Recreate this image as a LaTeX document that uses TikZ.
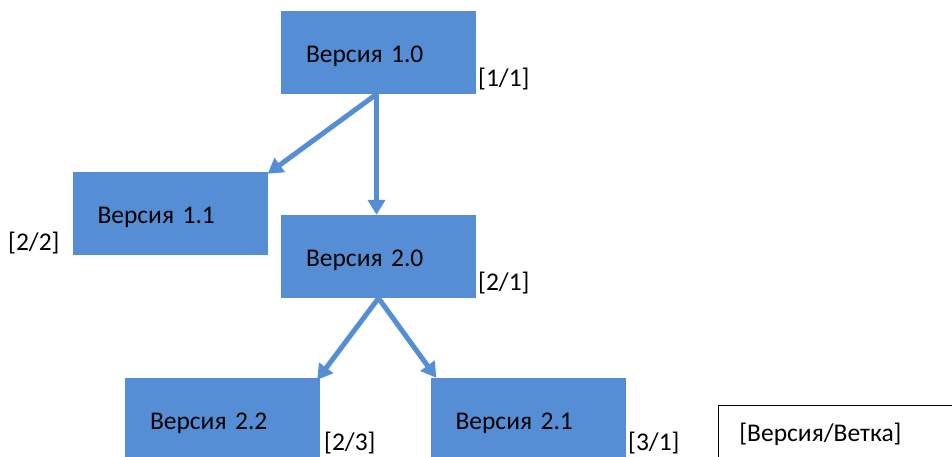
\documentclass[tikz,border=0pt]{standalone}
\usepackage{fontspec}
\setmainfont{Carlito}
\usetikzlibrary{arrows.meta}
\definecolor{boxblue}{RGB}{85,142,213}
\tikzset{
  verbox/.style={fill=boxblue, draw=none, minimum width=195pt, minimum height=83pt,
    text width=145pt, inner xsep=25pt, align=left, font=\fontsize{25.5}{30}\selectfont, text=black,
    text height=24pt, text depth=4pt},
  lbl/.style={anchor=west, inner sep=0pt, font=\fontsize{25.5}{30}\selectfont},
  conn/.style={draw=boxblue, line width=5pt, -{Triangle[length=15pt,width=17pt]}}
}
\begin{document}
\begin{tikzpicture}[x=1pt,y=-1pt]
\useasboundingbox (0,0) rectangle (952,457);
\clip (0,0) rectangle (952,457);
\node[verbox] (v10) at (378.5,52.5) {Версия 1.0};
\node[verbox] (v11) at (170,213.5) {Версия 1.1};
\node[verbox] (v20) at (378.5,256.5) {Версия 2.0};
\node[verbox] (v22) at (222.5,419.5) {Версия 2.2};
\node[verbox] (v21) at (528,419.5) {Версия 2.1};
\node[draw=black, line width=0.8pt, minimum width=240pt, minimum height=58pt, anchor=north west,
  text width=200pt, inner xsep=21pt, align=left, font=\fontsize{25.5}{30}\selectfont] (leg) at (718,405) {[Версия/Ветка]};
\node[lbl] (l10) at (478,79) {[1/1]};
\node[lbl] (l11) at (8,243) {[2/2]};
\node[lbl] (l20) at (478,283) {[2/1]};
\node[lbl] (l22) at (324,443) {[2/3]};
\node[lbl] (l21) at (628,443) {[3/1]};
\coordinate (v10s) at ([xshift=-2pt]v10.south);
\draw[conn] (v10s) -- ([yshift=-2pt]v11.north east);
\draw[conn] (v10s) -- (v20.north -| v10s);
\draw[conn] (v20.south) -- ([xshift=-3pt,yshift=-2pt]v22.north east);
\draw[conn] (v20.south) -- ([xshift=6pt]v21.north west);
\end{tikzpicture}
\end{document}
